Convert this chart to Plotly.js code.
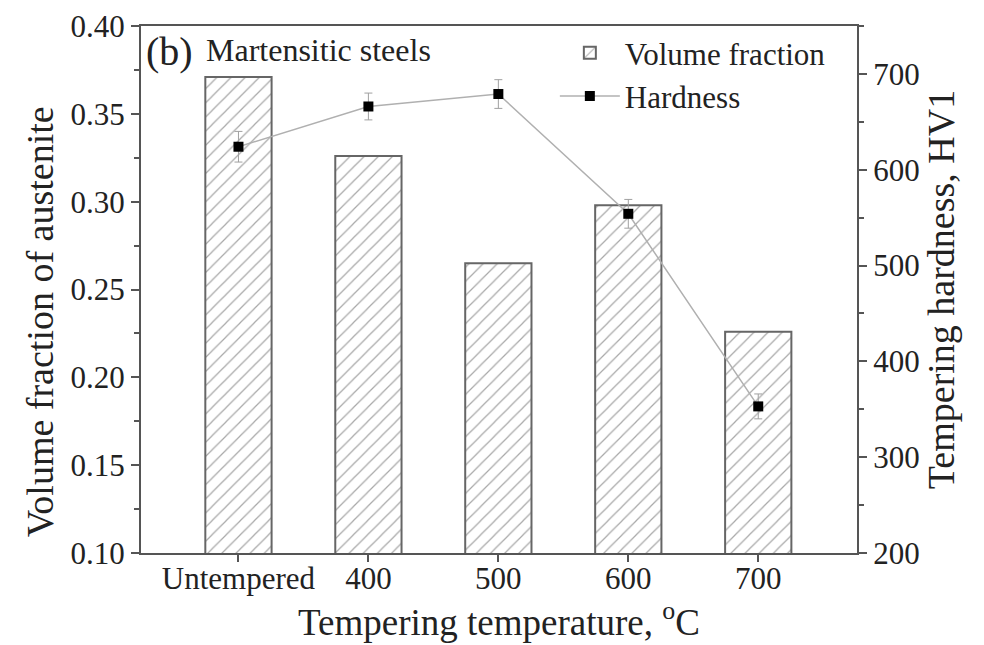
<!DOCTYPE html>
<html>
<head>
<meta charset="utf-8">
<script src="https://cdn.plot.ly/plotly-3.0.1.min.js"></script>
<style>html,body{margin:0;padding:0;background:#fff;}#chart{width:984px;height:645px;}</style>
</head>
<body>
<div id="chart"></div>
<script>
var categories = ["Untempered", "400", "500", "600", "700"];
var volumeFraction = [0.371, 0.326, 0.265, 0.298, 0.226];
var hardness = [624, 666, 679, 554, 353];
var hardnessError = [16, 14, 15, 15, 13];

var FONT = "Liberation Serif, Times New Roman, serif";
var AX = "#555";
var TXT = "#222";

var barTrace = {
  type: "bar",
  name: "Volume fraction",
  x: categories,
  y: volumeFraction,
  width: 0.51,
  marker: {
    color: "white",
    line: {color: "#666", width: 2},
    pattern: {shape: "/", fgcolor: "#a8a8a8", bgcolor: "white", size: 10, solidity: 0.12}
  },
  yaxis: "y"
};

var lineTrace = {
  type: "scatter",
  mode: "lines+markers",
  name: "Hardness",
  x: categories,
  y: hardness,
  yaxis: "y2",
  line: {color: "#b0b0b0", width: 1.5},
  marker: {symbol: "square", color: "black", size: 10},
  error_y: {type: "data", array: hardnessError, visible: true, color: "#a0a0a0", thickness: 1, width: 4}
};

var layout = {
  width: 984,
  height: 645,
  margin: {l: 141, r: 127, t: 26, b: 92},
  paper_bgcolor: "white",
  plot_bgcolor: "white",
  font: {family: FONT, color: TXT, size: 31},
  showlegend: true,
  legend: {
    x: 0.578, y: 1.0, xanchor: "left", yanchor: "top",
    bgcolor: "rgba(0,0,0,0)",
    font: {family: FONT, size: 31, color: TXT},
    itemwidth: 60,
    tracegroupgap: 0
  },
  xaxis: {
    type: "category",
    range: [-0.75, 4.76],
    showline: true, linecolor: AX, linewidth: 2, mirror: true,
    ticks: "outside", ticklen: 7, tickcolor: AX, tickwidth: 2,
    ticklabelstandoff: -10,
    showgrid: false, zeroline: false,
    tickfont: {family: FONT, size: 31, color: TXT},
    title: {text: "Tempering temperature, <sup>o</sup>C", font: {family: FONT, size: 37, color: TXT}, standoff: 0}
  },
  yaxis: {
    range: [0.10, 0.40],
    dtick: 0.05, tickformat: ".2f",
    showline: true, linecolor: AX, linewidth: 2,
    ticks: "outside", ticklen: 8, tickcolor: AX, tickwidth: 2,
    minor: {dtick: 0.025, ticks: "outside", ticklen: 5, tickcolor: AX, tickwidth: 2},
    showgrid: false, zeroline: false,
    tickfont: {family: FONT, size: 31, color: TXT}
  },
  yaxis2: {
    overlaying: "y", side: "right",
    range: [200, 750],
    tickvals: [200, 300, 400, 500, 600, 700],
    showline: true, linecolor: AX, linewidth: 2,
    ticks: "outside", ticklen: 8, tickcolor: AX, tickwidth: 2,
    minor: {dtick: 50, ticks: "outside", ticklen: 5, tickcolor: AX, tickwidth: 2},
    showgrid: false, zeroline: false,
    tickfont: {family: FONT, size: 31, color: TXT},
    title: {text: "Tempering hardness, HV1", font: {family: FONT, size: 38, color: TXT}, standoff: 8}
  },
  annotations: [
    {xref: "paper", yref: "paper", x: -0.141, y: 0.438, xanchor: "center", yanchor: "middle", showarrow: false,
     textangle: -90, text: "Volume fraction of austenite", font: {family: FONT, size: 38, color: TXT}},
    {xref: "paper", yref: "paper", x: 0.004, y: 0.951, xanchor: "left", yanchor: "middle", showarrow: false,
     text: "(b)", font: {family: FONT, size: 40, color: TXT}},
    {xref: "paper", yref: "paper", x: 0.088, y: 0.955, xanchor: "left", yanchor: "middle", showarrow: false,
     text: "Martensitic steels", font: {family: FONT, size: 32, color: TXT}}
  ]
};

Plotly.newPlot("chart", [barTrace, lineTrace], layout, {displayModeBar: false, staticPlot: true});
</script>
</body>
</html>
